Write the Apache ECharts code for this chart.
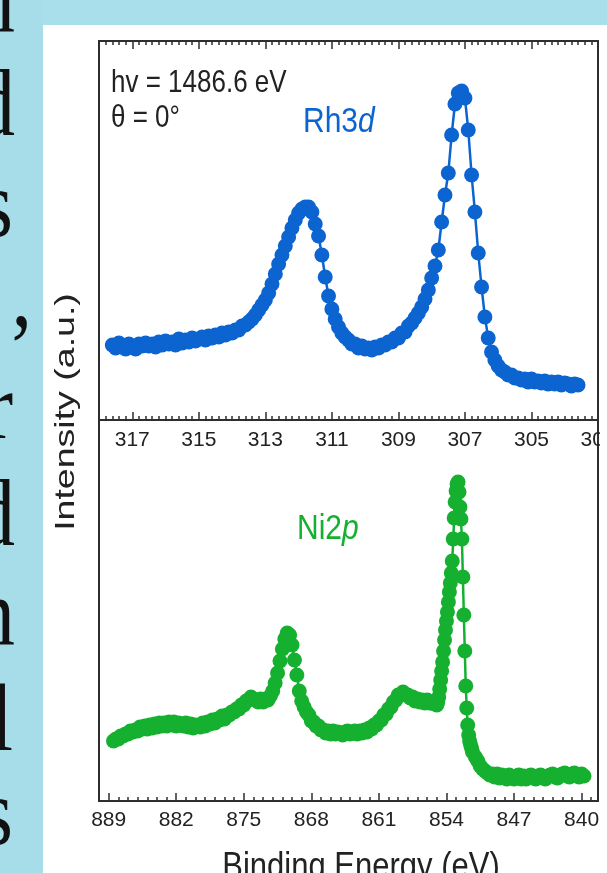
<!DOCTYPE html>
<html><head><meta charset="utf-8">
<script src="https://cdn.jsdelivr.net/npm/echarts@6/dist/echarts.min.js"></script>
<style>html,body{margin:0;padding:0;background:#fff;}#chart{width:607px;height:873px;}</style>
</head><body><div id="chart"></div>
<script>
// ---- tick labels ----
const rhTicks = [317, 315, 313, 311, 309, 307, 305, 303];
const niTicks = [889, 882, 875, 868, 861, 854, 847, 840];

// ---- Rh3d spectrum: binding energy grid (start/step) and intensities (a.u.) ----
const rhEnergyStart = 317.6, rhEnergyStep = 0.1;
const rhIntensity = [
  75,72,77,74,71,76,73,71,76,74,
  77,74,76,73,78,75,79,76,78,75,
  81,77,80,78,82,79,81,83,80,84,
  82,85,83,87,85,88,87,90,90,94,
  95,98,101,105,110,115,120,127,136,146,
  156,165,174,183,192,200,207,211,213,213,
  208,196,184,165,143,124,111,101,93,87,
  83,80,76,76,72,74,71,72,70,73,
  72,75,75,78,78,82,82,87,88,94,
  97,102,107,113,121,130,142,154,170,198,
  225,247,285,316,327,329,322,290,245,208,
  167,133,103,82,68,60,54,50,48,45,
  45,42,42,40,41,38,41,38,39,37,
  39,36,38,36,38,35,37,36,34,36,
  35
];

// ---- Ni2p spectrum: energy segments (start, step, count) and intensities (a.u.) ----
const niSegments = [
  { start: 888.5, step: 0.25, count: 132 },
  { start: 855.6, step: 0.1,  count: 44 },
  { start: 851.0, step: 0.25, count: 46 }
];
const niIntensity = [
  60,62,62,65,65,67,67,70,69,71,
  70,74,72,75,72,76,73,77,74,78,
  75,78,75,79,76,79,75,78,76,75,
  78,74,77,73,76,75,74,78,75,79,
  77,81,78,82,81,85,82,86,86,89,
  89,92,92,96,96,100,101,104,102,101,
  99,102,99,102,101,105,110,118,128,140,
  152,162,168,166,156,141,126,110,100,94,
  89,86,80,79,75,75,71,71,68,70,
  67,70,67,69,68,66,69,70,67,68,
  70,67,70,68,71,69,73,72,76,76,
  80,81,86,87,92,94,99,101,106,106,
  109,106,106,103,104,100,102,99,101,98,
  101,98,
  99,98,99,98,97,97,96,99,104,112,
  121,130,139,150,161,171,180,189,199,209,
  218,228,240,262,283,299,310,317,319,309,
  294,282,262,224,186,150,115,93,76,66,
  60,56,53,49,
  44,40,35,32,30,28,26,27,24,27,
  23,26,24,22,26,24,22,25,26,22,
  25,22,25,26,23,22,25,26,23,22,
  25,26,27,24,23,26,27,28,25,24,
  27,28,25,24,27,25
];

// ---- annotation texts ----
const sideLetters = ['n', 'd', 's', ',', 'r', 'd', 'n', 'l', 's'];
const photonText = 'hv = 1486.6 eV';
const angleText = 'θ = 0°';
const yTitle = 'Intensity (a.u.)';
const xTitle = 'Binding Energy (eV)';

const BLUE = '#0c64d0';
const GREEN = '#16b030';
const INK = '#222';
const FRAME = '#2e2e2e';
const SANS = '"Liberation Sans", Arial, sans-serif';
const SERIF = '"Liberation Serif", "Times New Roman", serif';

const rhData = rhIntensity.map((v, i) => [+(rhEnergyStart - i * rhEnergyStep).toFixed(2), v]);
const niData = [];
{
  let k = 0;
  niSegments.forEach(seg => {
    for (let j = 0; j < seg.count; j++) {
      niData.push([+(seg.start - j * seg.step).toFixed(2), niIntensity[k++]]);
    }
  });
}
const rhMinor = [];
for (let k = 303 * 5; k <= 318 * 5; k++) rhMinor.push(k / 5);
const niMinor = [];
for (let e = 839; e <= 890; e++) niMinor.push(e);

function tickAxis(grid, pos, min, max, ticks, len, labels, margin) {
  return {
    gridIndex: grid, type: 'value', position: pos, min: min, max: max, inverse: true,
    axisLine: { show: false, onZero: false },
    splitLine: { show: false },
    axisTick: { show: true, inside: true, length: len, customValues: ticks,
                lineStyle: { color: FRAME, width: 1.5 } },
    axisLabel: labels ? { show: true, customValues: ticks, fontSize: 21, color: INK,
                          fontFamily: SANS, margin: margin } : { show: false }
  };
}

const letterBaselines = [36, 139, 240, 330, 442, 549, 649, 754, 848];
const letterRight = [15, 15, 13, 32, 13, 15, 15, 13, 13];

const graphics = [
  { type: 'rect', shape: { x: 0, y: 0, width: 43, height: 873 }, style: { fill: '#a7dce9' }, z: 0 },
  { type: 'rect', shape: { x: 43, y: 0, width: 564, height: 25 }, style: { fill: '#a9dfeb' }, z: 0 }
];
sideLetters.forEach((ch, i) => {
  graphics.push({
    type: 'text', x: letterRight[i], y: letterBaselines[i] - 29, scaleY: 1.15, z: 1,
    style: { text: ch, fill: '#111', align: 'right', verticalAlign: 'middle', fontSize: 82, fontFamily: SERIF }
  });
});
graphics.push(
  { type: 'text', x: 111, y: 83, scaleY: 1.22, z: 5,
    style: { text: photonText, fill: INK, fontSize: 26, fontFamily: SANS, align: 'left', verticalAlign: 'middle' } },
  { type: 'text', x: 111, y: 118, scaleY: 1.22, z: 5,
    style: { text: angleText, fill: INK, fontSize: 26, fontFamily: SANS, align: 'left', verticalAlign: 'middle' } },
  { type: 'text', x: 303, y: 122, scaleY: 1.15, z: 5,
    style: { text: '{a|Rh3}{b|d}', align: 'left', verticalAlign: 'middle',
             rich: { a: { fontSize: 30, fontFamily: SANS, fill: BLUE },
                     b: { fontSize: 30, fontFamily: SANS, fontStyle: 'italic', fill: BLUE } } } },
  { type: 'text', x: 297, y: 529, scaleY: 1.15, z: 5,
    style: { text: '{a|Ni2}{b|p}', align: 'left', verticalAlign: 'middle',
             rich: { a: { fontSize: 30, fontFamily: SANS, fill: GREEN },
                     b: { fontSize: 30, fontFamily: SANS, fontStyle: 'italic', fill: GREEN } } } },
  { type: 'text', x: 66, y: 412, rotation: Math.PI / 2, scaleX: 1.34, z: 5,
    style: { text: yTitle, fill: INK, fontSize: 28, fontFamily: SANS, align: 'center', verticalAlign: 'middle' } },
  { type: 'text', x: 361, y: 868, scaleY: 1.2, z: 5,
    style: { text: xTitle, fill: INK, fontSize: 31, fontFamily: SANS, align: 'center', verticalAlign: 'middle' } },
  { type: 'rect', shape: { x: 600, y: 426, width: 7, height: 32 }, style: { fill: '#fff' }, z: 50 }
);

const chart = echarts.init(document.getElementById('chart'), null, { renderer: 'canvas' });
chart.setOption({
  animation: false,
  backgroundColor: '#fff',
  grid: [
    { left: 99, top: 41, right: 9, bottom: 453, show: true, borderColor: FRAME, borderWidth: 2,
      backgroundColor: 'transparent', containLabel: false, outerBoundsMode: 'none' },
    { left: 99, top: 420, right: 9, bottom: 72, show: true, borderColor: FRAME, borderWidth: 2,
      backgroundColor: 'transparent', containLabel: false, outerBoundsMode: 'none' }
  ],
  xAxis: [
    tickAxis(0, 'bottom', 303, 318, rhTicks, 8, true, 10),
    tickAxis(0, 'top', 303, 318, rhTicks, 8, false),
    tickAxis(0, 'bottom', 303, 318, rhMinor, 4, false),
    tickAxis(0, 'top', 303, 318, rhMinor, 4, false),
    tickAxis(1, 'bottom', 838.3, 890, niTicks, 8, true, 9),
    tickAxis(1, 'bottom', 838.3, 890, niMinor, 4, false)
  ],
  yAxis: [
    { gridIndex: 0, type: 'value', min: 0, max: 379, show: false, splitLine: { show: false } },
    { gridIndex: 1, type: 'value', min: 0, max: 381, show: false, splitLine: { show: false } }
  ],
  graphic: graphics,
  series: [
    { name: 'Rh3d', type: 'line', xAxisIndex: 0, yAxisIndex: 0, data: rhData,
      symbol: 'circle', symbolSize: 15, showAllSymbol: true, silent: true,
      lineStyle: { color: BLUE, width: 2.5 }, itemStyle: { color: BLUE, borderWidth: 0 } },
    { name: 'Ni2p', type: 'line', xAxisIndex: 4, yAxisIndex: 1, data: niData,
      symbol: 'circle', symbolSize: 15, showAllSymbol: true, silent: true,
      lineStyle: { color: GREEN, width: 2.5 }, itemStyle: { color: GREEN, borderWidth: 0 } }
  ]
});
</script>
</body></html>
